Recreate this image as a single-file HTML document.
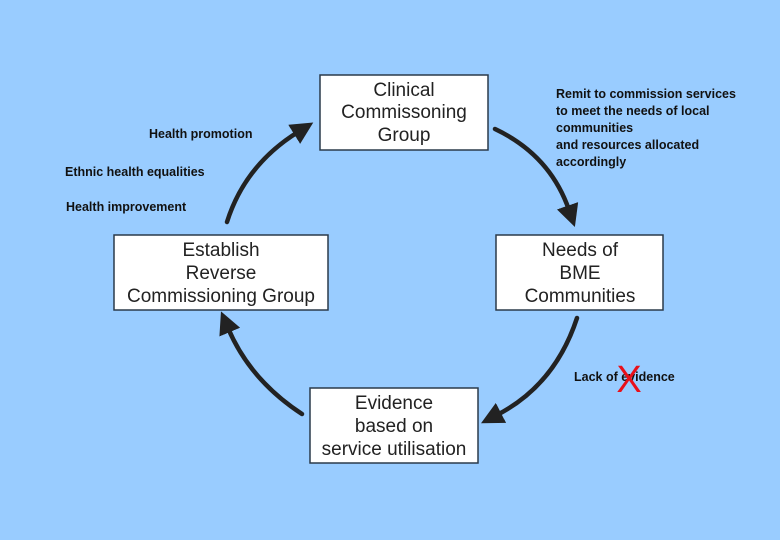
<!DOCTYPE html>
<html><head><meta charset="utf-8"><style>
html,body{margin:0;padding:0;background:#99ccff;}
svg{display:block;}
.b{fill:#fff;stroke:#2a3a4a;stroke-width:1.5;}
.t{font-family:"Liberation Sans",Arial,sans-serif;font-size:19px;fill:#222;text-anchor:middle;}
.l{font-family:"Liberation Sans",Arial,sans-serif;font-size:12.5px;font-weight:bold;fill:#111;}
.a{fill:none;stroke:#222;stroke-width:4.5;stroke-linecap:round;}
</style></head><body>
<svg width="780" height="540" viewBox="0 0 780 540">
<defs><marker id="h" markerWidth="5" markerHeight="5" refX="1" refY="2.5" orient="auto" markerUnits="strokeWidth"><path d="M0,0 L5,2.5 L0,5 z" fill="#222"/></marker></defs>
<rect class="b" x="320" y="75" width="168" height="75"/>
<text class="t" x="404" y="96">Clinical</text>
<text class="t" x="404" y="118">Commissoning</text>
<text class="t" x="404" y="141">Group</text>
<rect class="b" x="496" y="235" width="167" height="75"/>
<text class="t" x="580" y="256">Needs of</text>
<text class="t" x="580" y="279">BME</text>
<text class="t" x="580" y="302">Communities</text>
<rect class="b" x="114" y="235" width="214" height="75"/>
<text class="t" x="221" y="256">Establish</text>
<text class="t" x="221" y="279">Reverse</text>
<text class="t" x="221" y="302">Commissioning Group</text>
<rect class="b" x="310" y="388" width="168" height="75"/>
<text class="t" x="394" y="409">Evidence</text>
<text class="t" x="394" y="432">based on</text>
<text class="t" x="394" y="455">service utilisation</text>
<path class="a" d="M227,222 Q245,165 298,132" marker-end="url(#h)"/>
<path class="a" d="M495,129 Q550,155 569,210" marker-end="url(#h)"/>
<path class="a" d="M577,318 Q555,385 497,415" marker-end="url(#h)"/>
<path class="a" d="M302,414 Q250,380 228,328" marker-end="url(#h)"/>
<text class="l" x="149" y="138">Health promotion</text>
<text class="l" x="65" y="176">Ethnic health equalities</text>
<text class="l" x="66" y="211">Health improvement</text>
<text class="l" x="556" y="98">Remit to commission services</text>
<text class="l" x="556" y="115">to meet the needs of local</text>
<text class="l" x="556" y="132">communities</text>
<text class="l" x="556" y="149">and resources allocated</text>
<text class="l" x="556" y="166">accordingly</text>
<text class="l" x="574" y="381">Lack of evidence</text>
<text x="629" y="392" style="font-family:'Liberation Sans',Arial,sans-serif;font-size:38px;fill:#e8101a;text-anchor:middle;">X</text>
</svg>
</body></html>
